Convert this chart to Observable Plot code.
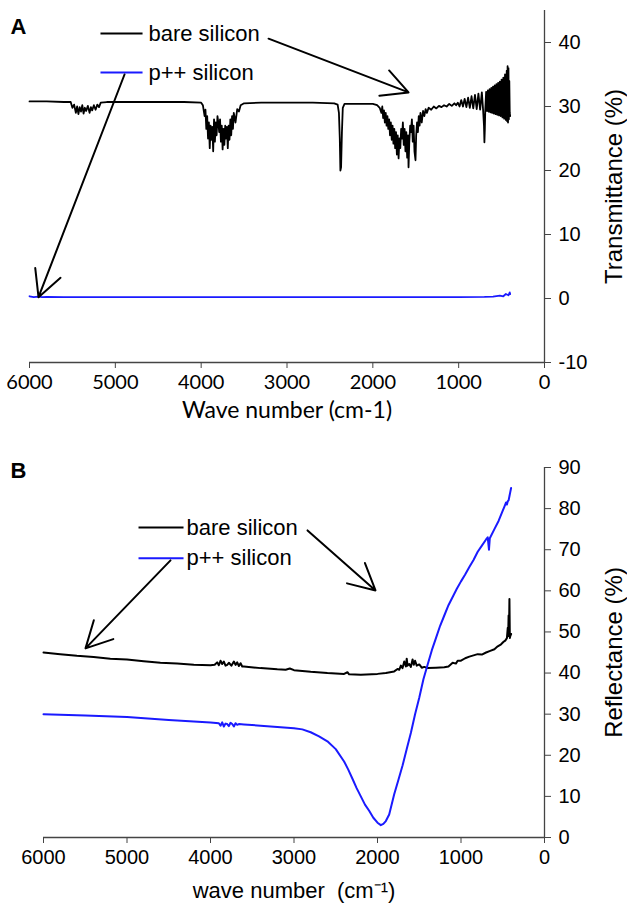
<!DOCTYPE html>
<html>
<head>
<meta charset="utf-8">
<script src="https://cdn.jsdelivr.net/npm/d3@7"></script>
<script src="https://cdn.jsdelivr.net/npm/@observablehq/plot@0.6"></script>
<style>
  html, body { margin: 0; padding: 0; background: #fff; }
  #chart svg { display: block; overflow: visible; }
</style>
</head>
<body>
<div id="chart"></div>
<script>
// ---------- Panel A: transmittance ----------
const seriesNames = ["bare silicon", "p++ silicon"];
const seriesColors = ["#000000", "#1a1aff"];

const aBareWn = [6000,5800,5600,5520,5500,5480,5460,5445,5430,5415,5400,5385,5370,5355,5340,5320,5300,5285,5270,5250,5230,5210,5190,5170,5100,4800,4500,4200,4000,
  3980,3960,3950,3940,3930,3920,3910,3900,3890,3880,3870,3860,3850,3840,3830,3820,3810,3800,3790,3780,3770,3760,3750,3740,3730,3720,3710,3700,3690,3680,3670,3660,3650,3640,3630,3620,3600,3580,3560,3540,3500,3300,3000,2700,
  2450,2410,2395,2385,2378,2370,2360,2350,2330,2200,2000,1950,1920,1900,1890,1880,1870,1860,1850,1840,1830,1820,1810,1800,1790,1780,1770,1760,1750,1740,1730,1720,1710,1700,1690,1680,1670,1660,1650,1640,1630,1620,1610,1600,1590,1584,1575,1565,1555,1545,1535,1525,1515,1503,1495,1485,1475,1465,1455,1445,1430,1415,1400,1385,1370,1350,1320,1290,1260,1230,1200,1170,1140,1110,1080,1050,1030,1010,
  990,970,950,930,910,890,870,850,830,810,790,770,750,730,715,705,700,695,690,680,670,660,650,640,630,620,610,600,590,580,570,560,550,540,530,520,510,500,490,480,470,460,450,440,435,430,425,420,415,410,405,400];
const aBareT = [30.8,30.8,30.7,30.7,29.8,30.3,29.0,30.0,28.8,29.9,29.2,30.2,28.9,29.8,29.3,30.1,29.0,29.9,29.4,30.2,29.5,30.3,29.9,30.6,30.7,30.7,30.7,30.7,30.6,
  30.2,28.5,29.5,26.5,28.5,25.0,27.5,23.5,27.0,24.8,26.8,23.0,28.0,24.5,27.5,25.5,28.5,27.5,26.0,28.0,24.5,27.0,23.3,26.5,24.0,27.0,25.0,26.8,23.5,27.0,24.8,28.0,25.5,28.5,26.5,29.0,27.5,29.6,29.2,30.2,30.5,30.6,30.6,30.6,
  30.5,30.3,29.0,25.0,20.0,20.5,26.0,29.8,30.4,30.4,30.4,30.2,29.8,29.0,30.0,28.2,29.4,27.5,29.0,27.0,28.5,26.5,28.0,25.5,27.5,24.8,27.0,24.2,26.5,23.5,26.0,22.5,25.5,21.9,25.0,23.5,26.5,25.0,27.5,24.0,26.5,23.0,26.0,22.0,25.5,20.5,24.5,27.0,26.0,28.0,24.5,27.0,23.0,21.6,25.5,27.5,26.0,28.5,27.0,29.0,27.5,29.3,28.5,29.6,29.0,29.8,29.5,30.0,29.7,30.1,29.9,30.2,30.0,30.4,30.1,30.5,30.2,30.6,
  30.0,31.0,30.0,31.2,29.9,31.4,29.8,31.6,29.7,31.8,29.6,32.0,29.5,32.2,29.4,27.0,24.4,26.5,29.5,32.3,29.3,32.5,29.2,32.7,29.1,32.9,29.0,33.1,28.9,33.3,28.8,33.5,28.7,33.7,28.6,33.9,28.5,34.2,28.3,34.5,28.1,35.0,27.9,35.6,27.7,36.3,27.5,36.0,28.0,34.0,29.0,28.5];

const aPppWn = [6000,5950,5900,5850,5800,5600,5000,4000,3000,2000,1000,700,600,520,480,450,420,405,400];
const aPppT  = [0.35,0.2,0.3,0.2,0.25,0.2,0.2,0.2,0.2,0.2,0.2,0.25,0.3,0.45,0.35,0.7,0.5,0.95,0.7];

const aYTicks = [-10, 0, 10, 20, 30, 40];
const xTicks = [6000, 5000, 4000, 3000, 2000, 1000, 0];

// legend / annotation positions (data units) for panel A
const aLegendX1 = [5173, 5173], aLegendX2 = [4683, 4683], aLegendY = [41.4, 35.3];
const aLabelX = [4614, 4614];
const aArrowX1 = [3215, 4893], aArrowY1 = [40.6, 35.0], aArrowX2 = [1584, 5895], aArrowY2 = [32.2, 0.2];

// ---------- Panel B: reflectance ----------
const bBareWn = [6000,5800,5600,5400,5200,5000,4800,4600,4400,4200,4000,3950,3920,3900,3880,3860,3840,3820,3800,3780,3750,3720,3700,3680,3660,3640,3620,3600,3400,3200,3100,3050,3000,2800,2600,2400,2360,2340,2200,2000,1900,1800,1760,1740,1720,1700,1680,1660,1650,1640,1620,1600,1580,1565,1550,1530,1500,1470,1440,1400,1300,1200,1150,1100,1060,1040,1000,950,900,850,800,750,700,650,600,560,520,490,470,450,440,435,430,425,420,415,410,400];
const bBareR  = [45.0,44.6,44.2,43.9,43.5,43.3,42.9,42.5,42.3,42.0,41.9,42.0,42.6,41.9,43.0,42.2,42.8,41.8,42.0,42.5,41.8,42.8,42.0,42.6,41.7,42.4,41.6,41.6,41.2,40.9,40.8,41.1,40.7,40.3,40.0,39.8,40.2,39.7,39.6,39.8,40.0,40.4,41.0,40.8,41.8,41.2,42.8,41.6,43.5,41.8,42.2,41.5,43.3,42.0,43.0,41.8,42.1,41.3,41.5,41.2,41.3,41.4,41.6,42.5,42.3,43.0,43.0,43.6,44.0,44.3,44.6,44.5,45.0,45.4,45.8,46.5,47.0,47.6,47.9,48.5,51.0,49.0,54.0,50.0,58.0,48.5,49.0,49.5];

const bPppWn = [6000,5500,5000,4500,4200,4000,3900,3880,3860,3840,3820,3800,3780,3760,3740,3720,3700,3680,3660,3600,3400,3200,3000,2900,2800,2700,2600,2500,2400,2350,2300,2250,2200,2150,2100,2050,2000,1960,1930,1900,1860,1800,1750,1700,1650,1600,1550,1500,1450,1400,1350,1300,1250,1200,1150,1100,1050,1000,950,900,850,800,750,700,680,665,655,600,550,500,480,460,450,440,430,420,410,400];
const bPppR  = [30.0,29.7,29.3,28.6,28.2,28.0,27.8,27.2,28.0,27.0,27.7,27.6,27.1,27.9,27.6,27.0,27.8,27.4,27.6,27.5,27.2,26.9,26.6,26.3,25.6,24.6,23.4,21.5,18.5,16.5,14.3,12.0,10.0,8.0,6.5,4.8,3.6,3.0,3.3,4.0,5.6,10.5,14.0,17.5,21.5,25.5,30.0,34.0,38.5,42.0,45.5,48.5,51.5,54.0,56.5,58.5,60.5,62.3,64.0,65.8,67.5,69.5,71.0,72.5,73.0,70.0,72.8,75.0,77.0,79.5,80.5,81.5,81.0,81.8,82.0,83.0,84.0,85.0];

const bYTicks = [0, 10, 20, 30, 40, 50, 60, 70, 80, 90];

const bLegendX1 = [4862, 4862], bLegendX2 = [4323, 4323], bLegendY = [75.4, 67.9];
const bLabelX = [4287, 4287];
const bArrowX1 = [2838, 4479], bArrowY1 = [74.7, 67.4], bArrowX2 = [2024, 5497], bArrowY2 = [60.1, 46.0];

// ---------- helpers ----------
const zipXY = (xs, ys) => xs.map((x, i) => ({x, y: ys[i]}));
const legendRows = (x1, x2, y, lx) => seriesNames.map((name, i) => ({name, color: seriesColors[i], x1: x1[i], x2: x2[i], y: y[i], lx: lx[i]}));
const arrowRows = (x1, y1, x2, y2) => x1.map((_, i) => ({x1: x1[i], y1: y1[i], x2: x2[i], y2: y2[i]}));

const ARIAL = "'Liberation Sans', Arial, sans-serif";
const AXIS = "#444";

function panel({height, marginTop, marginBottom, marginLeft, yDomain, yTicks, series, lineWidth, legend, arrows, xFont, xTitle, xTitleSize, xTitleDy, yTitle, letter, letterDx, letterDy, yTop}) {
  return Plot.plot({
    width: 627, height, marginTop, marginBottom, marginLeft, marginRight: 83,
    style: {background: "white", fontFamily: ARIAL, color: "black"},
    x: {domain: [6000, 0], ticks: xTicks},
    y: {domain: yDomain, ticks: yTicks},
    marks: [
      Plot.ruleY([yDomain[0]], {stroke: AXIS, strokeWidth: 1.3}),
      Plot.ruleX([0], {y1: yDomain[0], y2: yTop, stroke: AXIS, strokeWidth: 1.3}),
      Plot.axisX({ticks: xTicks, tickSize: 6, tickPadding: 6, stroke: AXIS, fontSize: 20, fontFamily: xFont, label: null, tickFormat: d => String(d)}),
      Plot.axisY({anchor: "right", ticks: yTicks, tickSize: 6, tickPadding: 8, stroke: AXIS, fontSize: 20, label: null, tickFormat: d => String(d)}),
      ...series.map(s => Plot.line(s.data, {x: "x", y: "y", stroke: s.color, strokeWidth: lineWidth})),
      Plot.link(legend, {x1: "x1", x2: "x2", y1: "y", y2: "y", stroke: "color", strokeWidth: 2}),
      Plot.text(legend, {x: "lx", y: "y", text: "name", textAnchor: "start", lineAnchor: "middle", fontSize: 22, fill: "black"}),
      Plot.arrow(arrows, {x1: "x1", y1: "y1", x2: "x2", y2: "y2", stroke: "black", strokeWidth: 2, headLength: 22, headAngle: 55}),
      Plot.text([xTitle], {frameAnchor: "bottom", lineAnchor: "middle", textAnchor: "middle", dy: xTitleDy, fontSize: xTitleSize, fontFamily: xFont, fill: "black"}),
      Plot.text([yTitle], {frameAnchor: "right", rotate: -90, textAnchor: "middle", lineAnchor: "middle", dx: 70, fontSize: 24, fill: "black"}),
      Plot.text([letter], {frameAnchor: "top-left", dx: letterDx, dy: letterDy, textAnchor: "start", lineAnchor: "middle", fontSize: 22, fontWeight: "bold", fill: "black"})
    ]
  });
}

const chartA = panel({
  height: 420, marginTop: 10, marginBottom: 58, marginLeft: 29,
  yDomain: [-10, 45], yTicks: aYTicks, yTop: 45, lineWidth: 1.8,
  series: [{data: zipXY(aBareWn, aBareT), color: seriesColors[0]}, {data: zipXY(aPppWn, aPppT), color: seriesColors[1]}],
  legend: legendRows(aLegendX1, aLegendX2, aLegendY, aLabelX),
  arrows: arrowRows(aArrowX1, aArrowY1, aArrowX2, aArrowY2),
  xFont: "Lato, 'Open Sans', sans-serif", xTitle: "Wave number (cm-1)", xTitleSize: 23, xTitleDy: 48,
  yTitle: "Transmittance (%)", letter: "A", letterDx: -19, letterDy: 16
});

const chartB = panel({
  height: 494, marginTop: 47, marginBottom: 77, marginLeft: 43,
  yDomain: [0, 90], yTicks: bYTicks, yTop: 90, lineWidth: 2,
  series: [{data: zipXY(bBareWn, bBareR), color: seriesColors[0]}, {data: zipXY(bPppWn, bPppR), color: seriesColors[1]}],
  legend: legendRows(bLegendX1, bLegendX2, bLegendY, bLabelX),
  arrows: arrowRows(bArrowX1, bArrowY1, bArrowX2, bArrowY2),
  xFont: ARIAL, xTitle: "wave number  (cm\u207B\u00B9)", xTitleSize: 22, xTitleDy: 53,
  yTitle: "Reflectance (%)", letter: "B", letterDx: -33, letterDy: 3
});

document.getElementById("chart").append(chartA, chartB);
</script>
</body>
</html>
